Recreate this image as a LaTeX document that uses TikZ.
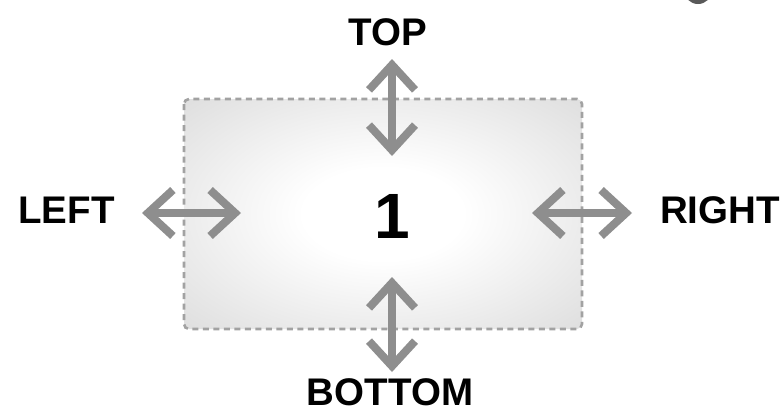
\documentclass[tikz,border=0pt]{standalone}
\usepackage{fontspec}
\setmainfont{Liberation Sans}
\usetikzlibrary{arrows.meta,positioning}
\definecolor{arrowgray}{HTML}{8E8E8E}
\definecolor{edgegray}{HTML}{A2A2A2}
\pgfdeclareradialshading{panelshade}{\pgfpoint{0bp}{0bp}}{color(0bp)=(white); color(10bp)=(white); color(70bp)=(black!30)}

\begin{document}
\begin{tikzpicture}[
    x=1pt, y=-1pt,
    side/.style={font=\bfseries\fontsize{38.5}{38.5}\selectfont, inner sep=0, anchor=base},
    move/.style={draw=arrowgray, line width=8pt,
        {Straight Barb[sharp, length=25pt, width=46pt]}-{Straight Barb[sharp, length=25pt, width=46pt]}},
    panel/.style={draw=edgegray, dash pattern=on 6pt off 4.5pt, line width=2.6pt,
        rounded corners=5pt, shading=panelshade}]
\useasboundingbox (0,0) rectangle (784,413);

% the panel
\path[panel] (184,99) rectangle (582,329);
\node[font=\bfseries\fontsize{64}{64}\selectfont, inner sep=0, anchor=base] (num) at (392,238) {1};

% side labels
\node[side] (top) at (387.5,45) {TOP};
\node[side] (bottom) at (390,405) {BOTTOM};
\node[side] (left) at (66.5,223) {LEFT};
\node[side] (right) at (720,223) {RIGHT};

% arrow ends
\coordinate (top-out) at (392,59);
\coordinate (top-in) at (392,156);
\coordinate (bottom-in) at (392,277);
\coordinate (bottom-out) at (392,372);
\coordinate (left-out) at (142,213);
\coordinate (left-in) at (241,213);
\coordinate (right-in) at (532,213);
\coordinate (right-out) at (632,213);

\draw[move] (top-out) -- (top-in);
\draw[move] (bottom-in) -- (bottom-out);
\draw[move] (left-out) -- (left-in);
\draw[move] (right-in) -- (right-out);

% cut-off mark at the top edge
\begin{scope}
\clip (0,0) rectangle (784,413);
\fill[black!65] (698,-10) circle (14);
\end{scope}
\end{tikzpicture}
\end{document}
